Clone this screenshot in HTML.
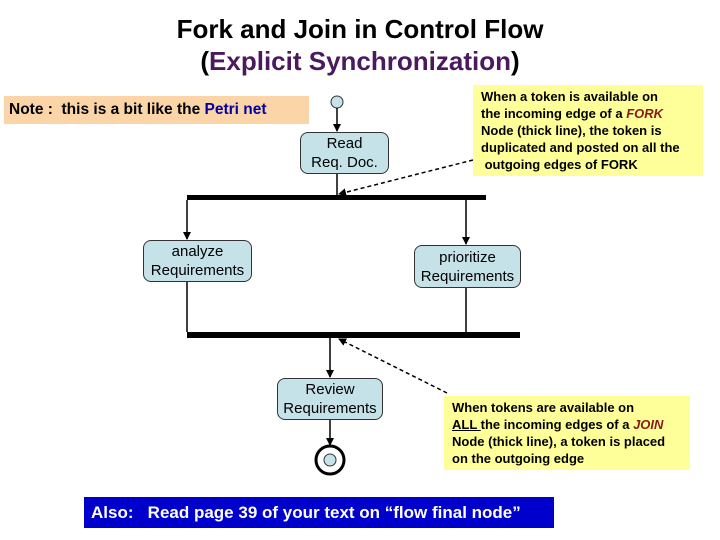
<!DOCTYPE html>
<html><head><style>
body{margin:0;width:720px;height:540px;background:#fff;position:relative;font-family:"Liberation Sans",sans-serif;overflow:hidden}
.a{position:absolute}
.t{left:0;width:720px;text-align:center;font-size:26px;color:#000;font-weight:bold}
.node{position:absolute;background:#c5e2e8;border:1px solid #333;border-radius:8px;box-sizing:border-box;text-align:center;font-size:15px;line-height:19px;display:flex;align-items:center;justify-content:center}
.y{position:absolute;background:#ffff99;font-size:13px;font-weight:bold;line-height:17px;box-sizing:border-box}
</style></head><body>
<div class="a t" style="top:14px">Fork and Join in Control Flow</div>
<div class="a t" style="top:46px">(<span style="color:#4b1a5e">Explicit Synchronization</span>)</div>
<div class="a" style="left:4px;top:96px;width:305px;height:28px;background:#fbd5a8;font-size:15.5px;font-weight:bold;line-height:28px;padding-left:5px;box-sizing:border-box">Note :&nbsp; this is a bit like the <span style="color:#0000a0">Petri net</span></div>
<svg class="a" style="left:0;top:0" width="720" height="540">
<defs><marker id="ar" markerWidth="8" markerHeight="8" refX="7" refY="4" orient="auto" markerUnits="userSpaceOnUse"><path d="M0,0 L8,4 L0,8 z" fill="#000"/></marker></defs>
<circle cx="337" cy="102" r="6" fill="#c5e2e8" stroke="#333"/>
<line x1="337" y1="108" x2="337" y2="131" stroke="#000" stroke-width="1.5" marker-end="url(#ar)"/>
<line x1="337" y1="174" x2="337" y2="195" stroke="#000" stroke-width="1.5"/>
<rect x="187" y="195" width="299" height="5" fill="#000"/>
<line x1="187" y1="200" x2="187" y2="239" stroke="#000" stroke-width="1.5" marker-end="url(#ar)"/>
<line x1="466" y1="200" x2="466" y2="244" stroke="#000" stroke-width="1.5" marker-end="url(#ar)"/>
<line x1="187" y1="282" x2="187" y2="332" stroke="#000" stroke-width="1.5"/>
<line x1="466" y1="288" x2="466" y2="332" stroke="#000" stroke-width="1.5"/>
<rect x="187" y="332" width="333" height="6" fill="#000"/>
<line x1="330" y1="338" x2="330" y2="377" stroke="#000" stroke-width="1.5" marker-end="url(#ar)"/>
<line x1="330" y1="420" x2="330" y2="445" stroke="#000" stroke-width="1.5" marker-end="url(#ar)"/>
<circle cx="330" cy="460" r="14" fill="#fff" stroke="#000" stroke-width="3"/>
<circle cx="330" cy="460" r="6" fill="#c5e2e8" stroke="#333"/>
<line x1="473" y1="160" x2="339" y2="194" stroke="#000" stroke-width="1.5" stroke-dasharray="4,3" marker-end="url(#ar)"/>
<line x1="447" y1="393" x2="339" y2="339" stroke="#000" stroke-width="1.5" stroke-dasharray="4,3" marker-end="url(#ar)"/>
</svg>
<div class="node" style="left:300px;top:132px;width:89px;height:42px">Read<br>Req. Doc.</div>
<div class="node" style="left:143px;top:240px;width:109px;height:42px">analyze<br>Requirements</div>
<div class="node" style="left:414px;top:245px;width:107px;height:43px">prioritize<br>Requirements</div>
<div class="node" style="left:277px;top:378px;width:106px;height:42px">Review<br>Requirements</div>
<div class="y" style="left:473px;top:85px;width:230px;height:91px;padding:3px 0 0 8px">When a token is available on<br>the incoming edge of a <i style="color:#8b1a1a">FORK</i><br>Node (thick line), the token is<br>duplicated and posted on all the<br>&nbsp;outgoing edges of FORK</div>
<div class="y" style="left:444px;top:396px;width:246px;height:74px;padding:3px 0 0 8px">When tokens are available on<br><u>ALL </u>the incoming edges of a <i style="color:#8b1a1a">JOIN</i><br>Node (thick line), a token is placed<br>on the outgoing edge</div>
<div class="a" style="left:84px;top:497px;width:470px;height:31px;background:#0000cc;color:#fff;font-size:17px;font-weight:bold;line-height:31px;padding-left:7px;box-sizing:border-box">Also:&nbsp;&nbsp; Read page 39 of your text on “flow final node”</div>
</body></html>
